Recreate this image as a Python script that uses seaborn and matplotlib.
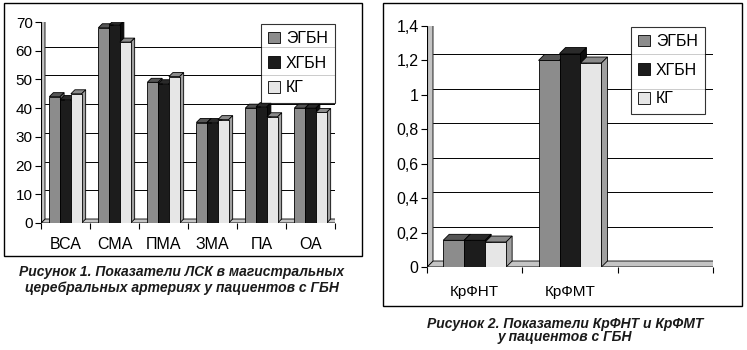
import numpy as np
import pandas as pd
import matplotlib
matplotlib.use("Agg")
import matplotlib.pyplot as plt
import seaborn as sns
from matplotlib.patches import Polygon, Rectangle
from matplotlib.transforms import IdentityTransform

# ---------------- data ----------------
groups = ["ЭГБН", "ХГБН", "КГ"]

categories1 = ["ВСА", "СМА", "ПМА", "ЗМА", "ПА", "ОА"]
egbn1 = [44, 68, 49, 35, 40, 40]
hgbn1 = [43, 69, 48.5, 35, 40.5, 40]
kg1 = [45, 63, 51, 36, 37, 38.5]
yticks1 = [0, 10, 20, 30, 40, 50, 60, 70]
yticklabels1 = ["0", "10", "20", "30", "40", "50", "60", "70"]

categories2 = ["КрФНТ", "КрФМТ"]
egbn2 = [0.155, 1.20]
hgbn2 = [0.155, 1.24]
kg2 = [0.145, 1.185]
yticks2 = [0, 0.2, 0.4, 0.6, 0.8, 1.0, 1.2, 1.4]
yticklabels2 = ["0", "0,2", "0,4", "0,6", "0,8", "1", "1,2", "1,4"]

caption1 = ["Рисунок 1. Показатели ЛСК в магистральных",
            "церебральных артериях у пациентов с ГБН"]
caption2 = ["Рисунок 2. Показатели КрФНТ и КрФМТ",
            "у пациентов с ГБН"]

front_colors = ["#8c8c8c", "#1c1c1c", "#e6e6e6"]
top_colors = ["#555555", "#2a2a2a", "#8a8a8a"]
side_colors = ["#6a6a6a", "#0e0e0e", "#a0a0a0"]
wall_color = "#c4c4c4"

sns.set_theme(style="white")
plt.rcParams["font.family"] = ["Liberation Sans", "DejaVu Sans"]

W, H = 747, 350
DPI = 100
fig = plt.figure(figsize=(W / DPI, H / DPI), dpi=DPI)


def make_df(cats, a, b, c):
    rows = []
    for g, vals in zip(groups, [a, b, c]):
        for cat, v in zip(cats, vals):
            rows.append({"cat": cat, "group": g, "val": v})
    return pd.DataFrame(rows)


def px_axes(x0, x1, ytop, ybot):
    return fig.add_axes([x0 / W, 1 - ybot / H, (x1 - x0) / W, (ybot - ytop) / H])


def draw_chart(ax, df, cats, nslots, ymax, yticks, yticklabels, dpx, width,
               legend_box, tick_fs, cat_fs, leg_fs, leg_spacing, cat_pad):
    sns.barplot(data=df, x="cat", y="val", hue="group", order=cats,
                hue_order=groups, palette=front_colors, width=width,
                edgecolor="black", linewidth=0.6, ax=ax, legend=False,
                errorbar=None, saturation=1)
    ax.set_xlim(-0.5, nslots - 0.5)
    ax.set_ylim(0, ymax)
    ax.set_xlabel("")
    ax.set_ylabel("")
    for s in ax.spines.values():
        s.set_visible(False)
    ax.set_facecolor("none")
    ax.grid(False)

    fig.canvas.draw()
    T = ax.transData
    dx, dy = dpx, dpx
    idt = IdentityTransform()

    # walls / floor
    (fx0, fy0) = T.transform((-0.5, 0))
    (fx1, fy1) = T.transform((nslots - 0.5, 0))
    (tx0, ty0) = T.transform((-0.5, ymax))
    floor = Polygon([(fx0, fy0), (fx1, fy1), (fx1 + dx, fy1 + dy), (fx0 + dx, fy0 + dy)],
                    closed=True, facecolor=wall_color, edgecolor="black",
                    linewidth=0.6, transform=idt, zorder=0.5)
    ax.add_artist(floor)
    wall = Polygon([(fx0, fy0), (fx0 + dx, fy0 + dy), (tx0 + dx, ty0 + dy), (tx0, ty0)],
                   closed=True, facecolor=wall_color, edgecolor="black",
                   linewidth=0.6, transform=idt, zorder=0.5)
    ax.add_artist(wall)
    # gridlines on back wall
    for yv in yticks[1:]:
        (gx0, gy) = T.transform((-0.5, yv))
        (gx1, _) = T.transform((nslots - 0.5, yv))
        ax.add_artist(plt.Line2D([gx0 + dx, gx1 + dx], [gy + dy] * 2,
                                 color="black", linewidth=0.7, transform=idt, zorder=0.6))
    # left axis line
    ax.add_artist(plt.Line2D([fx0, tx0], [fy0, ty0], color="black",
                             linewidth=0.8, transform=idt, zorder=0.7))

    # 3D faces of bars
    bars = sorted([p for p in ax.patches if isinstance(p, Rectangle) and p.get_height() > 0],
                  key=lambda p: p.get_x())
    for i, p in enumerate(bars):
        fc = p.get_facecolor()
        k = int(np.argmin([np.sum((np.array(matplotlib.colors.to_rgb(c)) - np.array(fc[:3])) ** 2)
                           for c in front_colors]))
        x0, w, h = p.get_x(), p.get_width(), p.get_height()
        (ax0, ay0) = T.transform((x0, 0))
        (ax1, ay1) = T.transform((x0 + w, h))
        top = Polygon([(ax0, ay1), (ax1, ay1), (ax1 + dx, ay1 + dy), (ax0 + dx, ay1 + dy)],
                      closed=True, facecolor=top_colors[k], edgecolor="black",
                      linewidth=0.6, transform=idt, zorder=2 + 2 * i)
        side = Polygon([(ax1, ay0), (ax1 + dx, ay0 + dy), (ax1 + dx, ay1 + dy), (ax1, ay1)],
                       closed=True, facecolor=side_colors[k], edgecolor="black",
                       linewidth=0.6, transform=idt, zorder=2 + 2 * i)
        ax.add_artist(top)
        ax.add_artist(side)
        p.set_zorder(3 + 2 * i)

    # ticks
    ax.set_yticks(yticks)
    ax.set_yticklabels(yticklabels, fontsize=tick_fs)
    ax.set_xticks(range(len(cats)))
    ax.set_xticklabels(cats, fontsize=cat_fs)
    ax.set_xticks(np.arange(-0.5, nslots, 1.0), minor=True)
    ax.tick_params(axis="x", which="major", length=0, pad=cat_pad)
    ax.tick_params(axis="x", which="minor", length=4, width=0.8, color="black",
                   direction="out", bottom=True)
    ax.tick_params(axis="y", which="major", length=4, width=0.8, color="black",
                   direction="out", left=True, pad=2)
    ax.tick_params(colors="black", labelcolor="black")
    ax.add_artist(plt.Line2D([fx0, fx1], [fy0, fy1], color="black",
                             linewidth=0.8, transform=idt, zorder=0.7))

    # legend
    handles = [Rectangle((0, 0), 1, 1, facecolor=c, edgecolor="black", linewidth=0.6)
               for c in front_colors]
    lx, ly = legend_box
    leg = fig.legend(handles, groups, loc="upper left",
                     bbox_to_anchor=(lx / W, 1 - ly / H), bbox_transform=fig.transFigure,
                     frameon=True, fancybox=False, fontsize=leg_fs,
                     handlelength=0.75, handleheight=0.75, handletextpad=0.35,
                     labelspacing=leg_spacing, borderpad=0.45, borderaxespad=0)
    leg.get_frame().set_edgecolor("black")
    leg.get_frame().set_linewidth(0.8)
    for t in leg.get_texts():
        t.set_color("black")


# frames
fig.patches.append(Rectangle((4 / W, 1 - 256 / H), 358 / W, 253 / H, transform=fig.transFigure,
                             fill=False, edgecolor="black", linewidth=1.0, figure=fig))
fig.patches.append(Rectangle((383 / W, 1 - 306 / H), 359 / W, 303 / H, transform=fig.transFigure,
                             fill=False, edgecolor="black", linewidth=1.0, figure=fig))

ax1 = px_axes(41, 335, 22, 223)
draw_chart(ax1, make_df(categories1, egbn1, hgbn1, kg1), categories1, 6, 70,
           yticks1, yticklabels1, 4, 0.66, (261, 24), 11, 11.5, 11.5, 0.6, 10)

ax2 = px_axes(427, 713, 26, 267)
draw_chart(ax2, make_df(categories2, egbn2, hgbn2, kg2), categories2, 3, 1.4,
           yticks2, yticklabels2, 6, 0.66, (631, 27), 11.5, 11, 11.5, 0.85, 13)

cap_kw = dict(ha="center", va="center", fontsize=10, fontweight="bold",
              fontstyle="italic", color="#1a1a1a")
fig.text(182 / W, 1 - 272 / H, caption1[0], **cap_kw)
fig.text(182 / W, 1 - 288 / H, caption1[1], **cap_kw)
fig.text(565 / W, 1 - 324 / H, caption2[0], **cap_kw)
fig.text(565 / W, 1 - 337 / H, caption2[1], **cap_kw)

fig.savefig("out.png", dpi=DPI, facecolor="white")
